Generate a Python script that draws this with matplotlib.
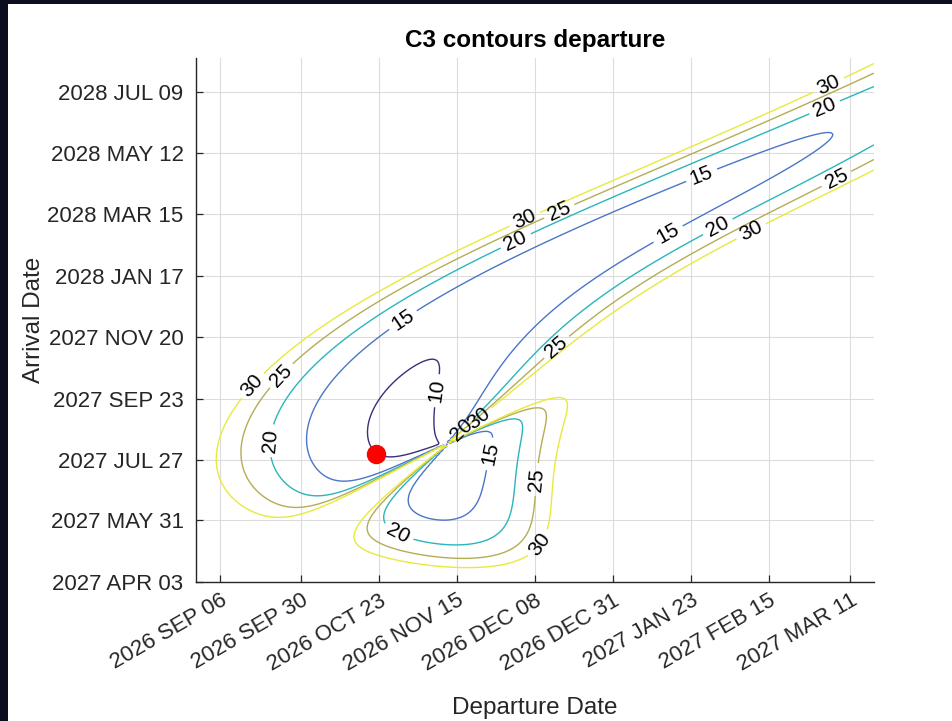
import numpy as np
import matplotlib
matplotlib.use("Agg")
import matplotlib.pyplot as plt
import matplotlib.dates as mdates
from matplotlib.patches import Rectangle

plt.rcParams['font.family'] = ['Liberation Sans', 'DejaVu Sans']

# search window (days)
dep_start, dep_end = np.datetime64('2026-08-30'), np.datetime64('2027-03-18')
arr_start, arr_end = np.datetime64('2027-04-03'), np.datetime64('2028-08-10')

levels = [10, 15, 20, 25, 30]
level_colors = ['#3b2f7a', '#4a76c8', '#2bb5bd', '#b5ad55', '#e9e93c']

dep_ticks = ['2026-09-06', '2026-09-30', '2026-10-23', '2026-11-15', '2026-12-08',
             '2026-12-31', '2027-01-23', '2027-02-15', '2027-03-11']
arr_ticks = ['2027-04-03', '2027-05-31', '2027-07-27', '2027-09-23', '2027-11-20',
             '2028-01-17', '2028-03-15', '2028-05-12', '2028-07-09']

# chosen trajectory
sel_dep, sel_arr = '2026-10-22', '2027-08-02'

# where the contour labels go, per level (departure, arrival)
label_spots = {
    10: [('2026-11-08', '2027-10-01')],
    15: [('2026-10-30', '2027-12-06'), ('2027-01-26', '2028-04-21'),
         ('2027-01-16', '2028-02-27'), ('2026-11-23', '2027-08-03')],
    20: [('2026-09-22', '2027-08-14'), ('2026-12-02', '2028-02-20'),
         ('2027-03-04', '2028-06-20'), ('2027-01-31', '2028-03-03'),
         ('2026-11-16', '2027-08-25'), ('2026-10-28', '2027-05-15')],
    25: [('2026-09-24', '2027-10-15'), ('2026-12-15', '2028-03-19'),
         ('2027-03-07', '2028-04-17'), ('2026-12-14', '2027-11-12'),
         ('2026-12-07', '2027-07-09')],
    30: [('2026-09-15', '2027-10-07'), ('2026-12-05', '2028-03-10'),
         ('2027-03-05', '2028-07-13'), ('2027-02-10', '2028-02-27'),
         ('2026-11-21', '2027-09-06'), ('2026-12-08', '2027-05-12')],
}

# JPL approximate Keplerian elements (J2000 ecliptic): value, rate per century
# a [AU], e, I, L, long.peri, long.node [deg]
earth_el = [1.00000261, 0.01671123, -0.00001531, 100.46457166, 102.93768193, 0.0]
earth_rt = [0.00000562, -0.00004392, -0.01294668, 35999.37244981, 0.32327364, 0.0]
mars_el = [1.52371034, 0.09339410, 1.84969142, -4.55343205, -23.94362959, 49.55953891]
mars_rt = [0.00001847, 0.00007882, -0.00813131, 19140.30268499, 0.44441088, -0.29257343]

MU = 0.01720209895 ** 2          # AU^3/day^2
AUD_KMS = 149597870.7 / 86400.0  # AU/day -> km/s


def planet_state(el, rt, jd):
    T = (jd - 2451545.0) / 36525.0
    a, e, inc, L, wbar, Om = [el[i] + rt[i] * T for i in range(6)]
    inc, Om, wbar, L = np.radians(inc), np.radians(Om), np.radians(wbar), np.radians(L)
    w = wbar - Om
    M = np.mod(L - wbar + np.pi, 2 * np.pi) - np.pi
    E = M + e * np.sin(M)
    for _ in range(30):
        E = E - (E - e * np.sin(E) - M) / (1 - e * np.cos(E))
    n = np.radians(rt[3]) / 36525.0
    xp = a * (np.cos(E) - e)
    yp = a * np.sqrt(1 - e ** 2) * np.sin(E)
    den = 1 - e * np.cos(E)
    vxp = -a * n * np.sin(E) / den
    vyp = a * n * np.sqrt(1 - e ** 2) * np.cos(E) / den
    cw, sw, cO, sO, ci, si = np.cos(w), np.sin(w), np.cos(Om), np.sin(Om), np.cos(inc), np.sin(inc)
    m11 = cw * cO - sw * sO * ci
    m12 = -sw * cO - cw * sO * ci
    m21 = cw * sO + sw * cO * ci
    m22 = -sw * sO + cw * cO * ci
    m31 = sw * si
    m32 = cw * si
    r = np.stack([m11 * xp + m12 * yp, m21 * xp + m22 * yp, m31 * xp + m32 * yp], axis=-1)
    v = np.stack([m11 * vxp + m12 * vyp, m21 * vxp + m22 * vyp, m31 * vxp + m32 * vyp], axis=-1)
    return r, v


def stumpff(z):
    C = np.full_like(z, 0.5)
    S = np.full_like(z, 1.0 / 6.0)
    p = z > 1e-8
    q = z < -1e-8
    sp = np.sqrt(z[p])
    C[p] = (1 - np.cos(sp)) / z[p]
    S[p] = (sp - np.sin(sp)) / sp ** 3
    sq = np.sqrt(-z[q])
    C[q] = (np.cosh(sq) - 1) / (-z[q])
    S[q] = (np.sinh(sq) - sq) / sq ** 3
    return C, S


def lambert_v1(r1v, r2v, tof):
    r1 = np.linalg.norm(r1v, axis=-1)
    r2 = np.linalg.norm(r2v, axis=-1)
    cosd = np.clip(np.sum(r1v * r2v, axis=-1) / (r1 * r2), -1, 1)
    cz = r1v[..., 0] * r2v[..., 1] - r1v[..., 1] * r2v[..., 0]
    dth = np.where(cz >= 0, np.arccos(cosd), 2 * np.pi - np.arccos(cosd))
    A = np.sin(dth) * np.sqrt(r1 * r2 / (1 - np.cos(dth)))

    def y_of(z):
        C, S = stumpff(z)
        return r1 + r2 + A * (z * S - 1) / np.sqrt(C), C, S

    # bisection on the universal variable z (single revolution)
    lo = np.full_like(r1, -100.0)
    hi = np.full_like(r1, 4 * np.pi ** 2 - 1e-9)
    for _ in range(90):
        z = 0.5 * (lo + hi)
        y, C, S = y_of(z)
        ypos = np.where(y > 0, y, 1.0)
        t = np.where(y > 0, ((ypos / C) ** 1.5 * S + A * np.sqrt(ypos)) / np.sqrt(MU), -1.0)
        too_short = t < tof
        lo = np.where(too_short, z, lo)
        hi = np.where(too_short, hi, z)
    y, C, S = y_of(0.5 * (lo + hi))
    f = 1 - y / r1
    g = A * np.sqrt(np.abs(y) / MU)
    return (r2v - f[..., None] * r1v) / g[..., None]


dep_days = np.arange(dep_start, dep_end + np.timedelta64(1, 'D'), np.timedelta64(1, 'D'))
arr_days = np.arange(arr_start, arr_end + np.timedelta64(1, 'D'), np.timedelta64(1, 'D'))
jd0 = 2440587.5  # unix epoch
dep_jd = dep_days.astype('datetime64[D]').astype(float) + jd0
arr_jd = arr_days.astype('datetime64[D]').astype(float) + jd0

DJ, AJ = np.meshgrid(dep_jd, arr_jd)
rE, vE = planet_state(earth_el, earth_rt, DJ)
rM, _ = planet_state(mars_el, mars_rt, AJ)
with np.errstate(all='ignore'):
    v1 = lambert_v1(rE, rM, AJ - DJ)
    c3 = np.sum((v1 - vE) ** 2, axis=-1) * AUD_KMS ** 2
c3 = np.where(np.isfinite(c3), c3, 1e4)

fig = plt.figure(figsize=(9.52, 7.21), dpi=100, facecolor='#0c0d1e')
fig.add_artist(Rectangle((8 / 952, 0), 1, 717 / 721, transform=fig.transFigure,
                         facecolor='white', edgecolor='none', zorder=0))
ax = fig.add_axes([0.206, 0.193, 0.712, 0.727])

X = mdates.date2num(dep_days)
Y = mdates.date2num(arr_days)
d2n = lambda s: mdates.date2num(np.datetime64(s))

# one contour set per level so each gets its own labels
for lev, col in zip(levels, level_colors):
    cs = ax.contour(X, Y, c3, levels=[lev], colors=[col], linewidths=1.0)
    ax.clabel(cs, inline=True, fontsize=15, fmt='%d', colors='black', inline_spacing=5,
              manual=[(d2n(a), d2n(b)) for a, b in label_spots[lev]])

ax.plot(d2n(sel_dep), d2n(sel_arr), 'o', color='red', markersize=13, zorder=5)

ax.set_xlim(X[0], X[-1])
ax.set_ylim(Y[0], Y[-1])
xt = [np.datetime64(d) for d in dep_ticks]
yt = [np.datetime64(d) for d in arr_ticks]
ax.set_xticks(mdates.date2num(xt))
ax.set_yticks(mdates.date2num(yt))
fmt = lambda d: d.astype(object).strftime('%Y %b %d').upper()
ax.set_xticklabels([fmt(d) for d in xt], rotation=30, ha='right', rotation_mode='anchor')
ax.set_yticklabels([fmt(d) for d in yt])
ax.tick_params(direction='in', length=5, width=0.9, labelsize=16, colors='#262626')
ax.tick_params(axis='y', pad=9)
ax.tick_params(axis='x', pad=6)
ax.grid(True, color='#dcdcdc', linewidth=0.8)
ax.set_axisbelow(True)
for s in ['top', 'right']:
    ax.spines[s].set_visible(False)
for s in ['left', 'bottom']:
    ax.spines[s].set_color('#262626')
    ax.spines[s].set_linewidth(1.0)

ax.set_title('C3 contours departure', fontsize=17.5, fontweight='bold', color='black', pad=8)
ax.set_xlabel('Departure Date', fontsize=17.5, color='#262626', labelpad=15)
ax.set_ylabel('Arrival Date', fontsize=17.5, color='#262626', labelpad=2)

fig.savefig('out.png', dpi=100, facecolor=fig.get_facecolor())
